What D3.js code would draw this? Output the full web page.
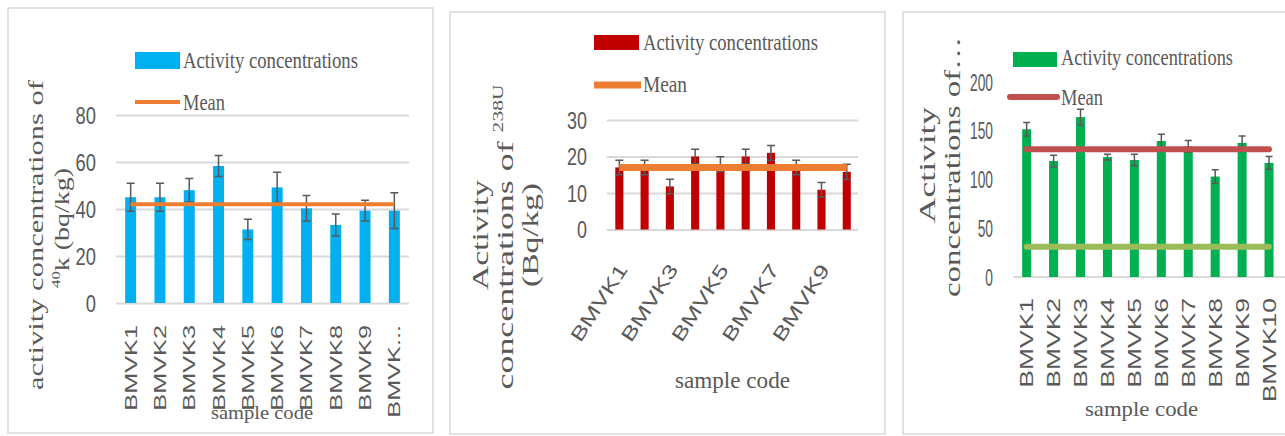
<!DOCTYPE html>
<html><head><meta charset="utf-8">
<script src="https://cdn.jsdelivr.net/npm/d3@7"></script>
<style>body{margin:0;background:#fff}svg{display:block}</style>
</head><body>
<svg id="chart" width="1285" height="436"></svg>
<script>
// ---------- DATA ----------
const categories = ["BMVK1","BMVK2","BMVK3","BMVK4","BMVK5","BMVK6","BMVK7","BMVK8","BMVK9","BMVK10"];

// Panel 1: 40K
const k40TickLabels = ["BMVK1","BMVK2","BMVK3","BMVK4","BMVK5","BMVK6","BMVK7","BMVK8","BMVK9","BMVK..."];
const k40Values = [45, 45, 48, 58.3, 31.3, 49.2, 40.3, 33.2, 39.3, 39.3];
const k40Errors = [6, 6, 5, 4.5, 4.3, 6.4, 5.4, 4.7, 4.4, 7.6];
const k40Mean = 42;
const k40YTicks = [0, 20, 40, 60, 80];

// Panel 2: 238U
const u238TickLabels = ["BMVK1","","BMVK3","","BMVK5","","BMVK7","","BMVK9",""];
const u238Values = [17, 17, 11.8, 20, 17.9, 20, 21, 17, 10.9, 15.8];
const u238Errors = [2, 2, 2, 2, 2, 2, 2, 2, 2, 2.1];
const u238Mean = 17;
const u238YTicks = [0, 10, 20, 30];

// Panel 3
const p3TickLabels = ["BMVK1","BMVK2","BMVK3","BMVK4","BMVK5","BMVK6","BMVK7","BMVK8","BMVK9","BMVK10"];
const p3Values = [151.5, 119, 164, 123, 120, 139.5, 134, 103, 137.5, 117];
const p3Errors = [7, 6, 8, 3, 6, 7, 6, 7, 7, 6.5];
const p3Mean = 131;
const p3RefLine = 31;
const p3YTicks = [0, 50, 100, 150, 200];

// ---------- DRAW ----------
const svg = d3.select("#chart");
const TXT = "#595959";
const SERIF = "'Liberation Serif','Times New Roman',serif";
const SANS = "'Liberation Sans',Arial,sans-serif";

function drawPanel(p) {
  const g = svg.append("g");
  g.append("rect").attr("x", p.frame[0]).attr("y", p.frame[1])
    .attr("width", p.frame[2]).attr("height", p.frame[3])
    .attr("fill", "#fff").attr("stroke", "#d9d9d9").attr("stroke-width", 1.5);

  const x = d3.scaleBand().domain(categories).range(p.xRange)
    .paddingInner(p.pad).paddingOuter(p.pad / 2);
  const y = d3.scaleLinear().domain(p.yDomain).range(p.yRange);
  const cx = c => x(c) + x.bandwidth() / 2;

  // y axis (grid + labels)
  const gridW = p.gridEnd - p.xRange[0];
  const yAxis = d3.axisLeft(y).tickValues(p.yTicks).tickSize(p.grid ? -gridW : 0).tickFormat(d3.format("d"));
  const ya = g.append("g").attr("transform", `translate(${p.xRange[0]},0)`).call(yAxis);
  ya.select(".domain").remove();
  ya.selectAll(".tick line").attr("stroke", "#d9d9d9").attr("stroke-width", 1.8);
  ya.selectAll(".tick text")
    .attr("x", 0).attr("dy", "0.35em")
    .attr("transform", `translate(${p.yLabelX - p.xRange[0]},0) scale(${p.yLabelScale},1)`)
    .attr("text-anchor", "end")
    .style("font-family", SANS).style("font-size", p.yLabelSize + "px").attr("fill", TXT);

  if (!p.grid) {
    g.append("line").attr("x1", p.xRange[0]).attr("x2", p.gridEnd)
      .attr("y1", y(0)).attr("y2", y(0)).attr("stroke", "#d9d9d9").attr("stroke-width", 1.8);
  }

  // bars
  g.selectAll(".bar").data(categories).join("rect")
    .attr("x", c => x(c)).attr("width", x.bandwidth())
    .attr("y", (c, i) => y(p.values[i]))
    .attr("height", (c, i) => y(0) - y(p.values[i]))
    .attr("fill", p.barColor);

  // error bars
  const cw = p.capW / 2;
  g.selectAll(".err").data(categories).join("path")
    .attr("d", (c, i) => {
      const xc = cx(c), y1 = y(p.values[i] + p.errors[i]), y2 = y(p.values[i] - p.errors[i]);
      return `M${xc},${y1}V${y2}M${xc - cw},${y1}H${xc + cw}M${xc - cw},${y2}H${xc + cw}`;
    })
    .attr("fill", "none").attr("stroke", "#595959").attr("stroke-width", 1.5);

  // mean / reference lines
  const lineGen = d3.line().x(d => d[0]).y(d => d[1]);
  p.lines.forEach(l => {
    g.append("path")
      .attr("d", lineGen(categories.map(c => [cx(c), y(l.value)])))
      .attr("fill", "none").attr("stroke", l.color).attr("stroke-width", l.width)
      .attr("stroke-linecap", l.cap || "butt");
  });

  // x axis labels
  if (p.tickAngle) {
    // explicit rotated labels
    g.selectAll(".xlab").data(categories).join("text")
      .filter((c, i) => p.tickLabels[i] !== "")
      .attr("x", c => cx(c) + p.tickDx).attr("y", y(0) + p.tickDy)
      .attr("transform", c => `rotate(${p.tickAngle},${cx(c) + p.tickDx},${y(0) + p.tickDy})`)
      .attr("text-anchor", "end")
      .attr("textLength", p.tickLen).attr("lengthAdjust", "spacingAndGlyphs")
      .text(c => p.tickLabels[categories.indexOf(c)])
      .style("font-family", SANS).style("font-size", p.tickSize + "px").attr("fill", TXT);
  } else {
    const xAxis = d3.axisBottom(x).tickSize(0).tickFormat((d, i) => p.tickLabels[i]);
    const xa = g.append("g").attr("transform", `translate(0,${y(0)})`).call(xAxis);
    xa.select(".domain").remove();
    xa.selectAll(".tick text")
      .attr("x", 0).attr("y", 0).attr("dy", null)
      .attr("text-anchor", "end")
      .attr("transform", p.tickTransform)
      .style("font-family", SANS).style("font-size", p.tickSize + "px").attr("fill", TXT);
  }

  // legend
  const L = p.legend;
  g.append("rect").attr("x", L.rect[0]).attr("y", L.rect[1]).attr("width", L.rect[2]).attr("height", L.rect[3]).attr("fill", p.barColor);
  g.append("line").attr("x1", L.line[0]).attr("x2", L.line[1]).attr("y1", L.line[2]).attr("y2", L.line[2])
    .attr("stroke", p.lines[0].color).attr("stroke-width", p.lines[0].width).attr("stroke-linecap", p.lines[0].cap || "butt");
  [L.t1, L.t2].forEach(t => {
    g.append("text").attr("x", t.x).attr("y", t.y).text(t.text)
      .attr("textLength", t.len).attr("lengthAdjust", "spacingAndGlyphs")
      .style("font-family", SERIF).style("font-size", t.size + "px").attr("fill", TXT);
  });

  // y titles
  p.yTitles.forEach(t => {
    const te = g.append("text")
      .attr("transform", `translate(${t.x},${t.y}) rotate(-90)`)
      .attr("text-anchor", "middle")
      .attr("textLength", t.len).attr("lengthAdjust", "spacingAndGlyphs")
      .style("font-family", SERIF).style("font-size", t.size + "px").attr("fill", TXT);
    t.parts.forEach(pt => {
      const ts = te.append("tspan").text(pt.s);
      if (pt.sup) ts.style("font-size", (t.size * 0.6) + "px").attr("dy", -t.size * 0.45);
      if (pt.back) ts.attr("dy", t.size * 0.45);
    });
  });

  // x title
  const XT = p.xTitle;
  g.append("text").attr("x", XT.x).attr("y", XT.y).text("sample code")
    .attr("textLength", XT.len).attr("lengthAdjust", "spacingAndGlyphs")
    .style("font-family", SERIF).style("font-size", XT.size + "px").attr("fill", TXT);
}

// Panel 1
drawPanel({
  frame: [8, 8, 425, 425],
  xRange: [116, 409], gridEnd: 409, pad: 0.625,
  yDomain: [0, 80], yRange: [303, 115], yTicks: k40YTicks, grid: true,
  yLabelX: 96, yLabelSize: 23, yLabelScale: 0.8,
  values: k40Values, errors: k40Errors, barColor: "#00b0f0", capW: 8,
  lines: [{ value: k40Mean, color: "#ed7d31", width: 4 }],
  tickLabels: k40TickLabels, tickSize: 16,
  tickTransform: "translate(6,22) rotate(-90) scale(1.58,1)",
  legend: {
    rect: [135, 52, 45, 17], line: [135, 180, 102],
    t1: { text: "Activity concentrations", x: 183, y: 68, len: 175, size: 23 },
    t2: { text: "Mean", x: 183, y: 110, len: 42, size: 23 }
  },
  yTitles: [
    { x: 43, y: 235, len: 310, size: 21, parts: [{ s: "activity concentrations of" }] },
    { x: 69, y: 228, len: 120, size: 21, parts: [{ s: "40", sup: true }, { s: "k  (bq/kg)", back: true }] }
  ],
  xTitle: { x: 211, y: 419, len: 102, size: 19 }
});

// Panel 2
drawPanel({
  frame: [450, 12, 435, 422],
  xRange: [606.7, 859.4], gridEnd: 858, pad: 0.68,
  yDomain: [0, 30], yRange: [229.5, 120], yTicks: u238YTicks, grid: true,
  yLabelX: 587, yLabelSize: 23, yLabelScale: 0.78,
  values: u238Values, errors: u238Errors, barColor: "#c00000", capW: 8,
  lines: [{ value: u238Mean, color: "#ed7d31", width: 7 }],
  tickLabels: u238TickLabels, tickSize: 19, tickLen: 88,
  tickAngle: -57, tickDx: 9, tickDy: 40,
  legend: {
    rect: [594, 35, 45, 15], line: [594, 641, 85],
    t1: { text: "Activity concentrations", x: 643, y: 50, len: 175, size: 23 },
    t2: { text: "Mean", x: 643, y: 92, len: 44, size: 23 }
  },
  yTitles: [
    { x: 488, y: 235, len: 110, size: 24, parts: [{ s: "Activity" }] },
    { x: 513, y: 237, len: 305, size: 23, parts: [{ s: "concentrations of " }, { s: "238U", sup: true }] },
    { x: 538, y: 235, len: 104, size: 24, parts: [{ s: "(Bq/kg)" }] }
  ],
  xTitle: { x: 675, y: 388, len: 115, size: 23 }
});

// Panel 3
drawPanel({
  frame: [903, 12, 390, 422],
  xRange: [1013.2, 1282.5], gridEnd: 1285, pad: 0.665,
  yDomain: [0, 200], yRange: [277, 82], yTicks: p3YTicks, grid: false,
  yLabelX: 993, yLabelSize: 23, yLabelScale: 0.6,
  values: p3Values, errors: p3Errors, barColor: "#00b050", capW: 7,
  lines: [
    { value: p3Mean, color: "#c0504d", width: 6, cap: "round" },
    { value: p3RefLine, color: "#9bbb59", width: 6, cap: "round" }
  ],
  tickLabels: p3TickLabels, tickSize: 18,
  tickTransform: "translate(6.5,21) rotate(-90) scale(1.47,1)",
  legend: {
    rect: [1013, 52, 44, 15], line: [1010, 1057, 97],
    t1: { text: "Activity concentrations", x: 1061, y: 65, len: 172, size: 23 },
    t2: { text: "Mean", x: 1061, y: 105, len: 42, size: 23 }
  },
  yTitles: [
    { x: 935, y: 165, len: 116, size: 24, parts: [{ s: "Activity" }] },
    { x: 960, y: 167, len: 260, size: 23, parts: [{ s: "concentrations of…" }] }
  ],
  xTitle: { x: 1085, y: 416, len: 113, size: 22 }
});
</script>
</body></html>
